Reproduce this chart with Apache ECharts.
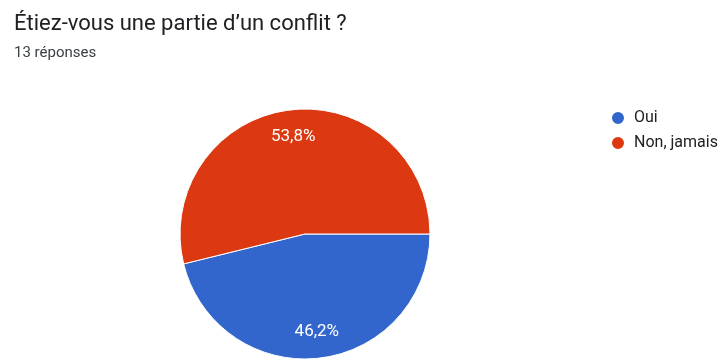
<!DOCTYPE html>
<html>
<head>
<meta charset="utf-8">
<script src="https://cdn.jsdelivr.net/npm/echarts@6/dist/echarts.min.js"></script>
<style>
  html, body { margin: 0; padding: 0; background: #ffffff; }
  #chart { width: 720px; height: 360px; }
</style>
</head>
<body>
<div id="chart"></div>
<script>
// Survey answers: "Étiez-vous une partie d'un conflit ?" (13 réponses)
const categories = ['Oui', 'Non, jamais'];
const counts = [6, 7];
const colors = ['#3366cc', '#dc3912'];

const total = counts.reduce((a, b) => a + b, 0);
const pieData = categories.map((name, i) => ({ name, value: counts[i] }));
const fmtPct = v => (v / total * 100).toFixed(1).replace('.', ',') + '%';

const chart = echarts.init(document.getElementById('chart'), null, { renderer: 'canvas' });

const center = [305, 234];
const R = 125;

chart.setOption({
  animation: false,
  color: colors,
  title: {
    text: 'Étiez-vous une partie d\u2019un conflit ?',
    subtext: '13 réponses',
    left: 9,
    top: 8,
    itemGap: 11,
    textStyle: { fontFamily: 'Roboto', fontSize: 22, fontWeight: 'normal', color: '#202124' },
    subtextStyle: { fontFamily: 'Roboto', fontSize: 15, color: '#3c4043' }
  },
  legend: {
    orient: 'vertical',
    left: 605,
    top: 105,
    icon: 'circle',
    itemWidth: 14,
    itemHeight: 14,
    itemGap: 9,
    textStyle: { fontFamily: 'Roboto', fontSize: 16, lineHeight: 16, color: '#202124', padding: [0, 0, 0, 4] },
    data: categories
  },
  series: [
    {
      // filled pie
      type: 'pie',
      center: center,
      radius: R,
      startAngle: 0,
      clockwise: true,
      label: { show: false },
      labelLine: { show: false },
      itemStyle: { borderColor: '#ffffff', borderWidth: 1 },
      emphasis: { disabled: true },
      data: pieData
    },
    {
      // transparent ring that carries the percentage labels further out
      type: 'pie',
      center: center,
      radius: [65, R],
      startAngle: 0,
      clockwise: true,
      silent: true,
      legendHoverLink: false,
      itemStyle: { color: 'transparent', borderWidth: 0 },
      label: {
        show: true,
        position: 'inside',
        formatter: p => fmtPct(p.value),
        color: '#ffffff',
        fontFamily: 'Roboto',
        fontSize: 17
      },
      labelLine: { show: false },
      emphasis: { disabled: true },
      data: pieData.map(d => ({ name: d.name + ' ', value: d.value }))
    }
  ]
});
</script>
</body>
</html>
